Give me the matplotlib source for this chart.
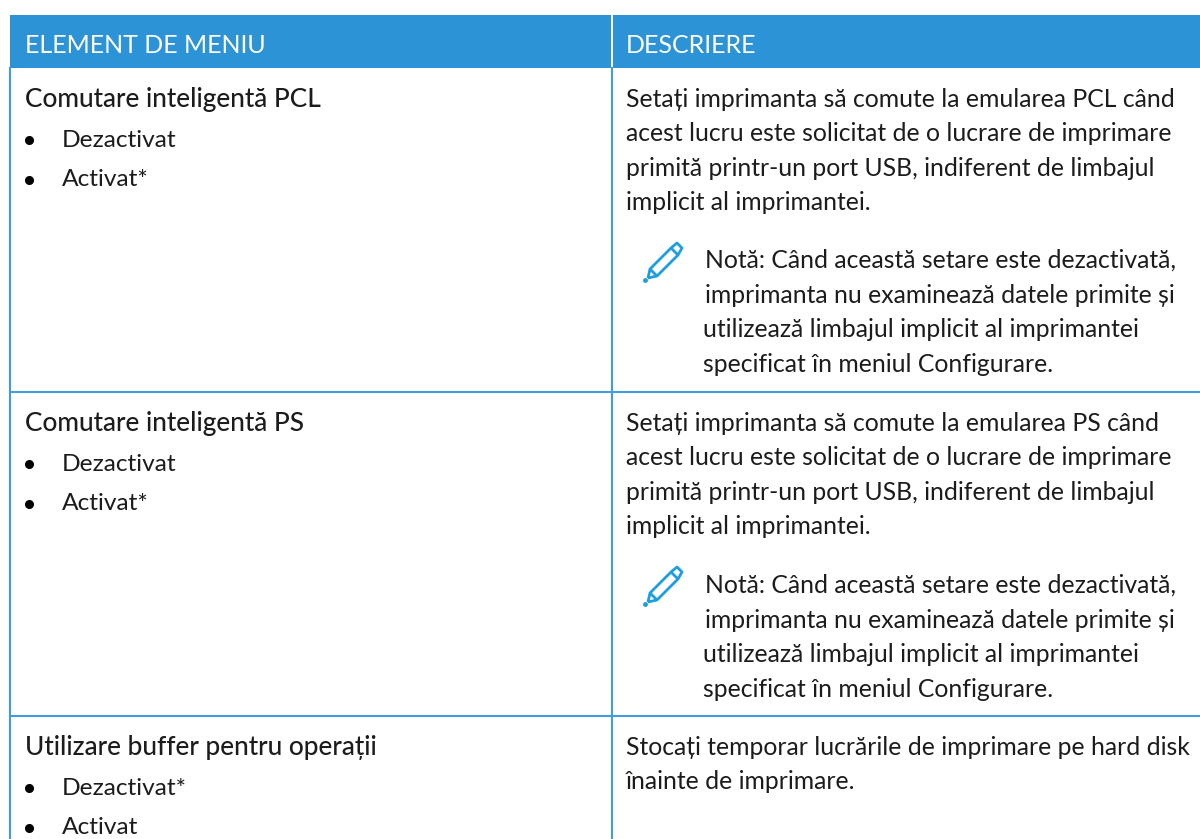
import matplotlib
matplotlib.use("Agg")
import matplotlib.pyplot as plt
from matplotlib.patches import Rectangle, PathPatch
from matplotlib.path import Path

headers = ["ELEMENT DE MENIU", "DESCRIERE"]
items = ["Comutare inteligentă PCL", "Comutare inteligentă PS", "Utilizare buffer pentru operații"]
options = [["Dezactivat", "Activat*"], ["Dezactivat", "Activat*"], ["Dezactivat*", "Activat"]]
descriptions = [
    ["Setați imprimanta să comute la emularea PCL când",
     "acest lucru este solicitat de o lucrare de imprimare",
     "primită printr-un port USB, indiferent de limbajul",
     "implicit al imprimantei."],
    ["Setați imprimanta să comute la emularea PS când",
     "acest lucru este solicitat de o lucrare de imprimare",
     "primită printr-un port USB, indiferent de limbajul",
     "implicit al imprimantei."],
    ["Stocați temporar lucrările de imprimare pe hard disk",
     "înainte de imprimare."],
]
note = ["Notă: Când această setare este dezactivată,",
        "imprimanta nu examinează datele primite și",
        "utilizează limbajul implicit al imprimantei",
        "specificat în meniul Configurare."]

blue = "#2b93d6"
line_blue = "#3f9ddc"
text_col = "#1c1c1c"
fs = 24.7 * 0.72

fig = plt.figure(figsize=(12, 8.39), dpi=100)
ax = fig.add_axes([0, 0, 1, 1])
ax.set_xlim(0, 1200)
ax.set_ylim(839, 0)
ax.axis("off")

def t(x, y, s, weight="normal", color=text_col, size=fs):
    ax.text(x, y, s, family="Lato", fontsize=size, color=color, weight=weight, va="baseline")

def pencil(x, y):
    # little pencil icon next to the notes
    verts = [(x + 4, y + 35), (x + 6, y + 26), (x + 27, y + 5), (x + 33, y + 0), (x + 38, y + 5),
             (x + 34, y + 12), (x + 13, y + 33), (x + 4, y + 35),
             (x + 6, y + 26), (x + 13, y + 33),
             (x + 27, y + 5), (x + 34, y + 12)]
    codes = [Path.MOVETO] + [Path.LINETO] * 7 + [Path.MOVETO, Path.LINETO, Path.MOVETO, Path.LINETO]
    ax.add_patch(PathPatch(Path(verts, codes), fill=False, ec="#1e9ee0", lw=2, joinstyle="round"))
    ax.plot([x + 1], [y + 37], "o", color="#1e9ee0", ms=2.5)

# header
ax.add_patch(Rectangle((10, 15), 601, 53, fc=blue, ec="none"))
ax.add_patch(Rectangle((613, 15), 587, 53, fc=blue, ec="none"))
t(25, 53, headers[0], color="white", size=25 * 0.72)
t(626, 53, headers[1], color="white", size=25 * 0.72)

# grid lines
row_tops = [68, 392, 716]
for y in row_tops[1:]:
    ax.plot([10, 1200], [y, y], color=line_blue, lw=1.5)
ax.plot([10, 10], [68, 839], color=line_blue, lw=1.5)
ax.plot([612, 612], [68, 839], color=line_blue, lw=1.5)

for i in range(3):
    y0 = row_tops[i]
    t(25, y0 + 39, items[i], weight="medium", size=26.3 * 0.72)
    for j in range(2):
        oy = y0 + 79 + j * 39.5
        ax.plot([29], [oy - 7], "o", color="black", ms=5.5)
        t(62, oy, options[i][j], size=24.5 * 0.72)
    for j in range(len(descriptions[i])):
        t(626, y0 + 39 + j * 34.3, descriptions[i][j])
    if i < 2:
        pencil(644, y0 + 175)
        note_base = y0 + 200 if i == 0 else y0 + 201
        for j in range(4):
            t(705 if j < 2 else 703, note_base + j * 34.6, note[j])

fig.savefig("out.png", dpi=100)
